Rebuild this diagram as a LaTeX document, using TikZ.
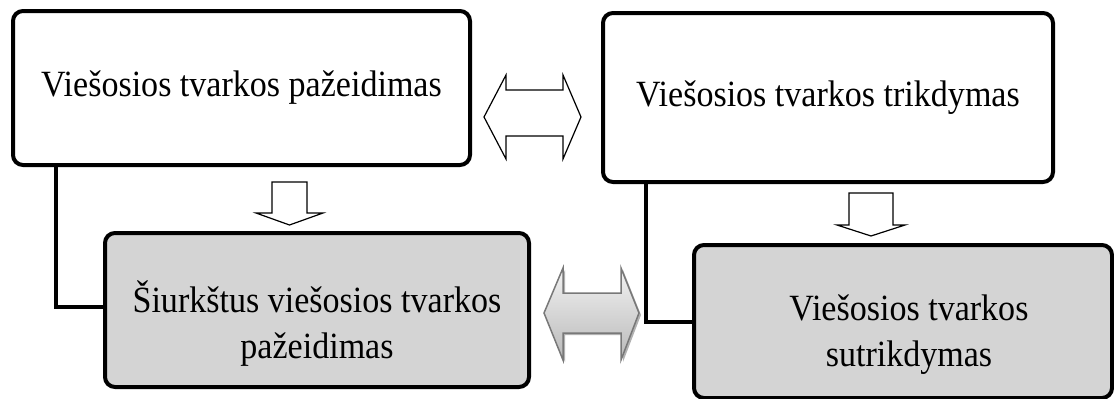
\documentclass[tikz,border=0pt]{standalone}
\usepackage{fontspec}
\setmainfont[FakeStretch=0.92]{Liberation Serif}
\usepackage{tikz}
\usetikzlibrary{positioning}

\definecolor{boxgray}{RGB}{212,212,212}
\definecolor{arrowedge}{RGB}{120,120,120}

\tikzset{
  stage/.style={draw, line width=4pt, rounded corners=10pt, align=center,
    inner sep=0pt, font=\fontsize{37}{46}\selectfont},
  stagetext/.style={align=center, inner sep=0pt, font=\fontsize{37}{46}\selectfont},
  hollow/.style={draw, line width=1.2pt, fill=white, line join=miter},
  conn/.style={draw, line width=4pt}
}

\begin{document}
\begin{tikzpicture}[x=1pt, y=-1pt]
        \useasboundingbox (0,0) rectangle (1114,399);

        % upper boxes
        \node[stage, minimum width=457pt, minimum height=154pt] (pazeid) at (241.5,88) {Viešosios tvarkos pažeidimas};
        \node[stage, minimum width=450pt, minimum height=169pt] (trikd) at (828,97.5) {Viešosios tvarkos trikdymas};

        % lower boxes, text sits a bit low
        \node[stage, fill=boxgray, minimum width=424pt, minimum height=154pt] (siurk) at (317,310) {};
        \node[stagetext] (siurktxt) at ([yshift=-14pt]siurk.center) {Šiurkštus viešosios tvarkos\\pažeidimas};
        \node[stage, fill=boxgray, minimum width=418pt, minimum height=153pt] (sutrikd) at (903,321.5) {};
        \node[stagetext] (sutrikdtxt) at ([xshift=6pt, yshift=-13pt]sutrikd.center) {Viešosios tvarkos\\sutrikdymas};

        % side lines
        \draw[conn] ([xshift=45pt]pazeid.south west) |- ([yshift=3pt]siurk.west);
        \draw[conn] ([xshift=45pt]trikd.south west) |- (sutrikd.west);

        % white double arrow
        \draw[hollow] (484,117) -- (506,75) -- (506,90) -- (563,90) -- (563,75) -- (581,117)
            -- (563,159) -- (563,136) -- (506,136) -- (506,159) -- cycle;

        % down arrows
        \draw[hollow] (272,182) -- (307,182) -- (307,213) -- (323,213) -- (289.5,225)
            -- (256,213) -- (272,213) -- cycle;
        \draw[hollow] (849,193) -- (893,193) -- (893,225) -- (905,225) -- (871,236)
            -- (837,225) -- (849,225) -- cycle;

        % gray double arrow
        \fill[gray!60] (546,315) -- (565,270) -- (565,295) -- (623,295) -- (623,270) -- (641,315)
            -- (623,362) -- (623,335) -- (565,335) -- (565,362) -- cycle;
        \draw[line width=1.5pt, draw=arrowedge, top color=gray!10, bottom color=gray!55]
            (544,313) -- (563,268) -- (563,293) -- (621,293) -- (621,268) -- (639,313)
            -- (621,360) -- (621,333) -- (563,333) -- (563,360) -- cycle;

\end{tikzpicture}
\end{document}
